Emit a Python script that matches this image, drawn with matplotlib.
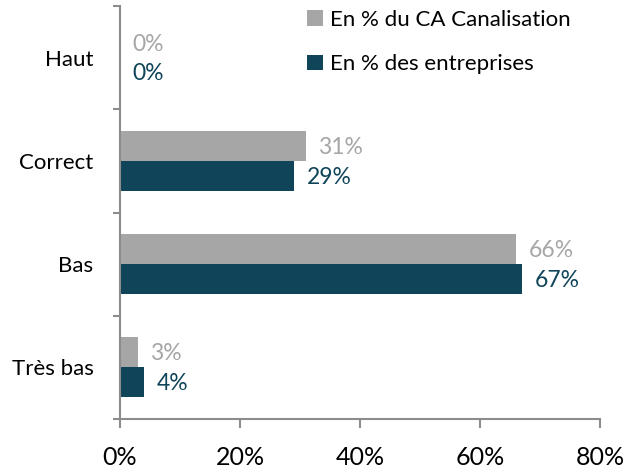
import numpy as np
import matplotlib.pyplot as plt
from matplotlib.ticker import FixedLocator, PercentFormatter

plt.rcParams['font.family'] = ['Lato', 'DejaVu Sans']

categories = ['Haut', 'Correct', 'Bas', 'Très bas']
ca_canalisation = [0, 31, 66, 3]
entreprises = [0, 29, 67, 4]
series_labels = ['En % du CA Canalisation', 'En % des entreprises']

gris = '#A6A6A6'
bleu = '#0F4459'
axe = '#8C8C8C'

fig = plt.figure(figsize=(6.24, 4.71), dpi=100)
ax = fig.add_axes([120 / 624, 1 - 419 / 471, 480 / 624, 413 / 471])

y = np.arange(len(categories))[::-1]
h = 0.29
ax.barh(y + h / 2, ca_canalisation, height=h, color=gris, label=series_labels[0])
ax.barh(y - h / 2, entreprises, height=h, color=bleu, label=series_labels[1])

for yy, v in zip(y, ca_canalisation):
    ax.annotate(f'{v}%', (v, yy + h / 2), xytext=(9, -1), textcoords='offset points',
                ha='left', va='center', fontsize=16.5, color=gris)
for yy, v in zip(y, entreprises):
    ax.annotate(f'{v}%', (v, yy - h / 2), xytext=(9, -1), textcoords='offset points',
                ha='left', va='center', fontsize=16.5, color=bleu)

ax.set_xlim(0, 80)
ax.set_ylim(-0.5, len(categories) - 0.5)
ax.set_xticks([0, 20, 40, 60, 80])
ax.xaxis.set_major_formatter(PercentFormatter(decimals=0))
ax.set_yticks(y)
ax.set_yticklabels(categories)
ax.yaxis.set_minor_locator(FixedLocator(np.arange(-0.5, len(categories), 1)))

ax.tick_params(axis='y', which='major', length=0, pad=19, labelsize=16)
ax.tick_params(axis='y', which='minor', length=5, width=1.5, color=axe, direction='out')
ax.tick_params(axis='x', length=6.5, width=1.5, color=axe, pad=13, labelsize=18)

for s in ['top', 'right']:
    ax.spines[s].set_visible(False)
for s in ['left', 'bottom']:
    ax.spines[s].set_color(axe)
    ax.spines[s].set_linewidth(1.5)

ax.legend(loc='upper left', bbox_to_anchor=(307 / 624, 1 - 10 / 471), bbox_transform=fig.transFigure,
          frameon=False, fontsize=16, borderpad=0, borderaxespad=0,
          handlelength=0.7, handleheight=0.7, handletextpad=0.35, labelspacing=1.1)

fig.savefig('out.png', dpi=100)
